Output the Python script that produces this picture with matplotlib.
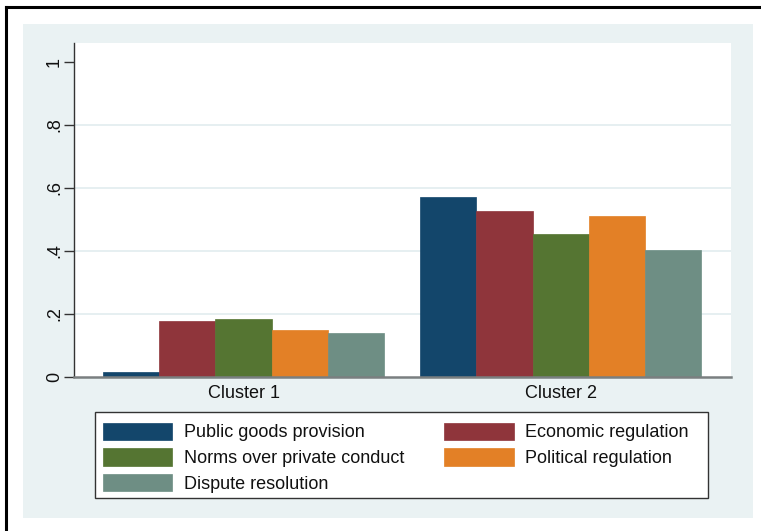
import matplotlib.pyplot as plt
import matplotlib.patches as mpatches
from matplotlib.lines import Line2D

plt.rcParams['font.family'] = ['Liberation Sans', 'DejaVu Sans']

# mean share by cluster and governance domain
clusters = ["Cluster 1", "Cluster 2"]
domains = ["Public goods provision", "Economic regulation",
           "Norms over private conduct", "Political regulation",
           "Dispute resolution"]
public_goods = [0.016, 0.571]
economic_reg = [0.177, 0.526]
private_norms = [0.185, 0.454]
political_reg = [0.149, 0.512]
dispute_res = [0.139, 0.403]
series = [public_goods, economic_reg, private_norms, political_reg, dispute_res]

colors = ['#13466b', '#8f353b', '#557532', '#e38026', '#6e8e84']
bg = '#eaf2f3'

W, H = 761, 531
fig = plt.figure(figsize=(W / 100, H / 100), dpi=100)
fig.patch.set_facecolor('white')

# outer frame (only top and left edges fall inside the image)
fig.add_artist(Line2D([6 / W, 6 / W], [0, 1 - 7 / H], transform=fig.transFigure,
                      color='black', lw=2.2))
fig.add_artist(Line2D([6 / W, 1], [1 - 7 / H, 1 - 7 / H], transform=fig.transFigure,
                      color='black', lw=2.2))
# graph region
fig.add_artist(mpatches.Rectangle((23 / W, 1 - 518 / H), (753 - 23) / W, (518 - 24) / H,
                                  transform=fig.transFigure, facecolor=bg,
                                  edgecolor='none', zorder=0))

ax = fig.add_axes([74 / W, 1 - 377 / H, (731 - 74) / W, (377 - 43) / H])
ax.set_facecolor('white')

gap = 0.64
n = len(domains)
for j, (vals, c) in enumerate(zip(series, colors)):
    xs = [i * (n + gap) + j for i in range(len(clusters))]
    ax.bar(xs, vals, width=1.0, color=c, edgecolor=c, linewidth=0.5,
           label=domains[j], zorder=3)

centers = [i * (n + gap) + (n - 1) / 2 for i in range(len(clusters))]
ax.set_xticks(centers)
ax.set_xticklabels(clusters, fontsize=13, color='#111111')
ax.tick_params(axis='x', length=0, pad=6)
ax.set_xlim(-0.5 - 0.516, (len(clusters) - 1) * (n + gap) + n - 0.5 + 0.53)

ax.set_ylim(0, 1.06)
ax.set_yticks([0, 0.2, 0.4, 0.6, 0.8, 1.0])
ax.set_yticklabels(['0', '.2', '.4', '.6', '.8', '1'], fontsize=13, color='#111111',
                   rotation=90, va='center')
ax.tick_params(axis='y', length=7, width=1, color='#333333', pad=1)

for v in [0.2, 0.4, 0.6, 0.8]:
    ax.axhline(v, color='#e2ecef', lw=1.2, zorder=1)

for s in ['top', 'right']:
    ax.spines[s].set_visible(False)
ax.spines['left'].set_color('#333333')
ax.spines['left'].set_linewidth(1)
ax.spines['bottom'].set_color('#7a7f80')
ax.spines['bottom'].set_linewidth(1.8)
ax.spines['bottom'].set_zorder(4)

# legend box
fig.add_artist(mpatches.Rectangle((95 / W, 1 - 498 / H), (708 - 95) / W, (498 - 412) / H,
                                  transform=fig.transFigure, facecolor='white',
                                  edgecolor='#333333', lw=1, zorder=1))
handles, labels = ax.get_legend_handles_labels()
# fill the two legend columns row by row
order = [0, 2, 4, 1, 3]
leg = fig.legend([handles[k] for k in order], [labels[k] for k in order],
                 ncol=2, loc='upper left',
                 bbox_to_anchor=(90 / W, 1 - 410 / H), frameon=False,
                 fontsize=13, handlelength=3.85, handleheight=1.1,
                 handletextpad=0.65, labelspacing=0.38, columnspacing=2.2,
                 borderpad=0.2)
for t in leg.get_texts():
    t.set_color('#111111')

fig.savefig('out.png', dpi=100)
